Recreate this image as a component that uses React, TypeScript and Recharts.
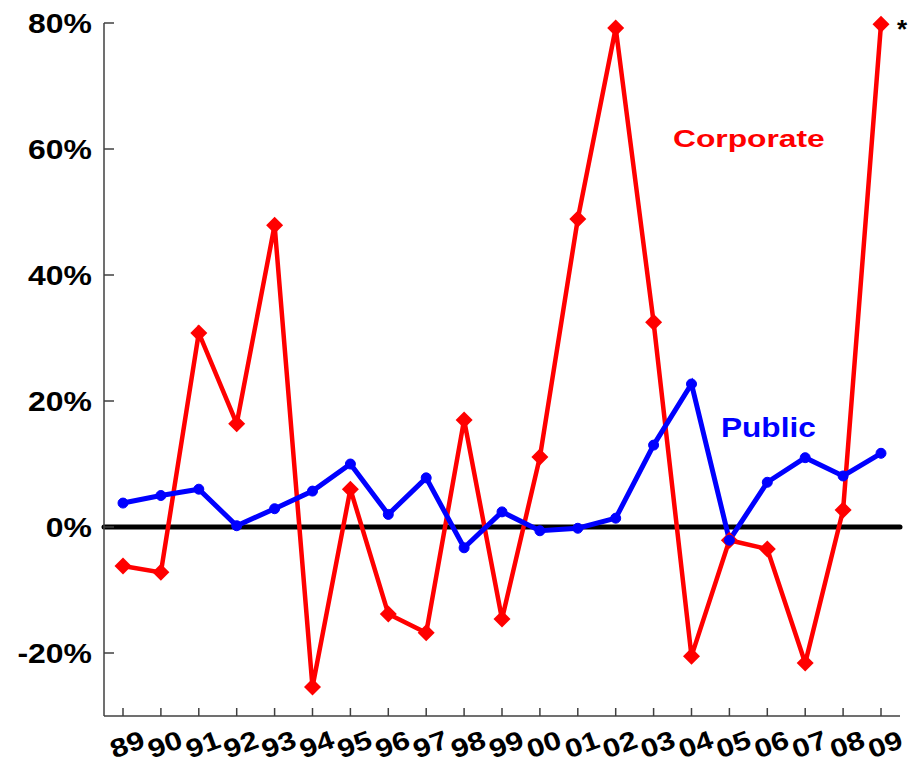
import { Line, LineChart, ReferenceLine, XAxis, YAxis } from "recharts";

const years = ["89", "90", "91", "92", "93", "94", "95", "96", "97", "98", "99", "00", "01", "02", "03", "04", "05", "06", "07", "08", "09"];
const corporate = [-6.2, -7.2, 30.8, 16.4, 47.9, -25.4, 6.0, -13.8, -16.8, 17.0, -14.6, 11.1, 48.9, 79.2, 32.5, -20.5, -2.1, -3.5, -21.6, 2.7, 79.8];
const publicGrowth = [3.8, 5.0, 6.0, 0.2, 2.9, 5.7, 10.0, 2.0, 7.8, -3.3, 2.4, -0.6, -0.2, 1.4, 13.0, 22.7, -2.1, 7.1, 11.0, 8.1, 11.7];
const yTicks = [-20, 0, 20, 40, 60, 80];

const data = years.map((year, i) => ({ year, corporate: corporate[i], public: publicGrowth[i] }));

const FONT = "'Liberation Sans', Arial, sans-serif";
const AXIS = "#404040";

function YTick({ x, y, payload }: any) {
  return (
    <g>
      <line x1={x} x2={x + 10} y1={y} y2={y} stroke={AXIS} strokeWidth={1.5} />
      <text
        transform={`translate(${x - 12},${y}) scale(1.14,1)`}
        dy="0.36em"
        textAnchor="end"
        fontFamily={FONT}
        fontWeight="bold"
        fontSize={28}
        fill="#000"
      >
        {payload.value}%
      </text>
    </g>
  );
}

function XTick({ x, y, payload }: any) {
  return (
    <g>
      <line x1={x} x2={x} y1={y} y2={y - 8} stroke={AXIS} strokeWidth={1.5} />
      <text
        transform={`translate(${x + 4},${y + 28}) rotate(-20) scale(1.2,1)`}
        dy="0.36em"
        textAnchor="middle"
        fontFamily={FONT}
        fontWeight="bold"
        fontSize={26}
        fill="#000"
      >
        {payload.value}
      </text>
    </g>
  );
}

function Diamond({ cx, cy, index }: any) {
  const s = 8.5;
  return (
    <polygon
      key={`d-${index}`}
      points={`${cx},${cy - s} ${cx + s},${cy} ${cx},${cy + s} ${cx - s},${cy}`}
      fill="#ff0000"
    />
  );
}

export default function App() {
  return (
    <div style={{ position: "absolute", left: 0, top: 0, background: "#fff" }}>
      <LineChart width={909} height={763} data={data} margin={{ top: 23, right: 9, left: 0, bottom: 0 }}>
        <XAxis
          dataKey="year"
          height={47}
          interval={0}
          padding={{ left: 19, right: 19 }}
          axisLine={{ stroke: AXIS, strokeWidth: 1.5 }}
          tickLine={false}
          tickSize={0}
          tickMargin={0}
          tick={<XTick />}
        />
        <YAxis
          width={104}
          domain={[-30, 80]}
          ticks={yTicks}
          interval={0}
          axisLine={{ stroke: AXIS, strokeWidth: 1.5 }}
          tickLine={false}
          tickSize={0}
          tickMargin={0}
          tick={<YTick />}
        />
        <ReferenceLine y={0} stroke="#000" strokeWidth={5} strokeLinecap="round" />
        <Line
          dataKey="corporate"
          stroke="#ff0000"
          strokeWidth={4.5}
          dot={<Diamond />}
          activeDot={false}
          isAnimationActive={false}
        />
        <Line
          dataKey="public"
          stroke="#0000ff"
          strokeWidth={5}
          dot={{ r: 5, fill: "#0000ff", stroke: "#0000ff", strokeWidth: 1 }}
          activeDot={false}
          isAnimationActive={false}
        />
        <text
          transform="translate(673,147) scale(1.38,1)"
          fontFamily={FONT}
          fontWeight="bold"
          fontSize={23}
          fill="#ff0000"
        >
          Corporate
        </text>
        <text
          transform="translate(721,437) scale(1.17,1)"
          fontFamily={FONT}
          fontWeight="bold"
          fontSize={27}
          fill="#0000ff"
        >
          Public
        </text>
        <text x={897} y={38} fontFamily={FONT} fontWeight="bold" fontSize={26} fill="#000">
          *
        </text>
      </LineChart>
    </div>
  );
}
